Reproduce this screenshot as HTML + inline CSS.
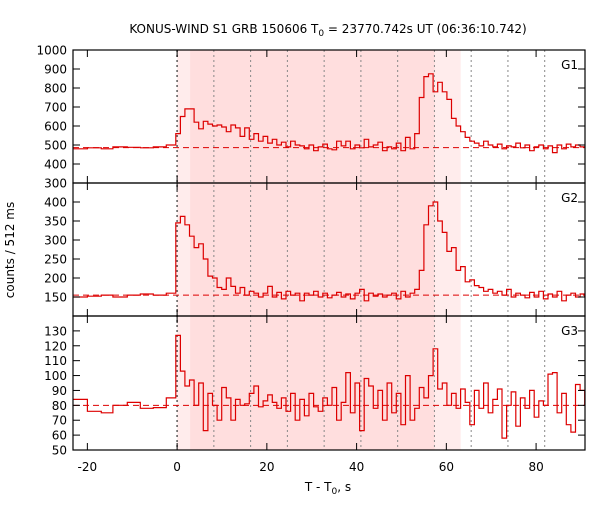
<!DOCTYPE html>
<html><head><meta charset="utf-8"><style>
body{margin:0;background:#fff}
svg text{font-family:"DejaVu Sans","Liberation Sans",sans-serif;fill:#000}
</style></head><body>
<svg id="c" width="600" height="500" xmlns="http://www.w3.org/2000/svg">
<defs><clipPath id="pc"><rect x="73" y="50" width="512" height="400"/></clipPath></defs>
<text x="328" y="33" font-size="12" text-anchor="middle">KONUS-WIND S1 GRB 150606 T<tspan font-size="9" dy="3">0</tspan><tspan dy="-3"> = 23770.742s UT (06:36:10.742)</tspan></text>
<text x="14" y="250" font-size="12" text-anchor="middle" transform="rotate(-90 14 250)">counts / 512 ms</text>
<text x="328" y="491" font-size="12" text-anchor="middle">T - T<tspan font-size="9" dy="3">0</tspan><tspan dy="-3">, s</tspan></text>
<g id="g"></g>
</svg>
<script>
const preEdges=[-23.2,-20,-16.9,-14.3,-11.1,-8.2,-5.3,-2.4,-0.3];
const postStart=-0.3, binW=1.024;
const g1Pre=[480,485,480,490,488,485,490,500];
const g1Post=[560,650,690,690,620,585,625,610,600,605,595,570,605,590,545,590,530,560,520,545,510,530,500,515,490,520,500,495,480,500,470,490,505,480,475,520,495,520,480,500,485,530,490,500,515,470,490,480,510,470,540,480,560,750,860,875,780,830,780,740,640,600,570,540,520,510,495,520,500,490,505,480,495,490,510,485,500,470,490,500,480,495,460,500,480,505,490,500,490];
const g2Pre=[150,152,155,150,155,158,155,160];
const g2Post=[345,362,340,310,280,290,250,205,200,175,170,200,178,160,175,155,165,160,150,160,178,150,162,145,165,155,160,140,160,155,165,150,160,148,155,162,150,158,145,160,170,140,160,152,158,150,155,160,145,165,150,160,170,220,340,390,400,350,320,270,280,220,230,190,195,180,175,165,170,160,165,155,170,150,160,155,148,162,150,165,145,158,150,165,140,155,160,150,158,150];
const g3Pre=[84,76,75,80,82,78,78.5,85];
const g3Post=[127,103,93,97,80,95,63,88,80,70,92,85,70,84,80,81,88,93,79,83,87,82,78,85,76,88,70,84,73,88,79,76,85,80,92,70,82,102,75,95,63,98,93,78,90,70,95,75,88,67,100,70,78,92,85,100,118,91,95,80,88,78,91,82,67,90,78,95,75,84,91,58,80,89,66,85,78,90,72,83,80,101,102,75,88,67,62,94,90,80];
const backgrounds=[486,155,80];
const panelNames=["G1","G2","G3"];
const yRanges=[[300,1000],[100,450],[50,140]];
const yTicks=[[300,400,500,600,700,800,900,1000],[150,200,250,300,350,400],[50,60,70,80,90,100,110,120,130]];
const xTicks=[-20,0,20,40,60,80];
const gridTimes=[0,8.192,16.384,24.576,32.768,40.96,49.152,57.344,65.536,73.728,81.92];
const shadeOuter=[0,63.2], shadeInner=[2.9,57.4];

const X0=73,X1=585,T0=-23.2,T1=90.9;
const panelTop=[50,183,316], panelBot=[183,316,450];
const xs=t=>X0+(t-T0)*(X1-X0)/(T1-T0);
const ysF=p=>v=>panelBot[p]-(v-yRanges[p][0])*(panelBot[p]-panelTop[p])/(yRanges[p][1]-yRanges[p][0]);
const NS="http://www.w3.org/2000/svg";
const G=document.getElementById('g');
function mk(tag,attrs,parent){const e=document.createElementNS(NS,tag);for(const k in attrs)e.setAttribute(k,attrs[k]);(parent||G).appendChild(e);return e;}

let r=mk('rect',{x:xs(shadeOuter[0]),y:50,width:xs(shadeOuter[1])-xs(shadeOuter[0]),height:400,fill:'#ffecec'});


r=mk('rect',{x:xs(shadeInner[0]),y:50,width:xs(shadeInner[1])-xs(shadeInner[0]),height:400,fill:'#ffdede'});


gridTimes.forEach((t,i)=>{
  const l=mk('line',{x1:xs(t),x2:xs(t),y1:50,y2:450,stroke:i==0?'#666':'#888','stroke-width':i==0?1.6:1,'stroke-dasharray':'2,3'});
  
  
});
const pres=[g1Pre,g2Pre,g3Pre], posts=[g1Post,g2Post,g3Post];
for(let p=0;p<3;p++){
  const ys=ysF(p);
  const b=mk('line',{x1:X0,x2:X1,y1:ys(backgrounds[p]),y2:ys(backgrounds[p]),stroke:'#d00','stroke-width':1,'stroke-dasharray':'6,4'});
  
  
  let d='';
  const pre=pres[p];
  for(let i=0;i<pre.length;i++){
    const xa=xs(preEdges[i]),xb=xs(preEdges[i+1]),y=ys(pre[i]);
    d+=(i==0?'M':'L')+xa.toFixed(1)+','+y.toFixed(1)+'L'+xb.toFixed(1)+','+y.toFixed(1);
  }
  posts[p].forEach((v,i)=>{
    const xa=xs(postStart+i*binW),xb=xs(postStart+(i+1)*binW),y=ys(v);
    d+='L'+xa.toFixed(1)+','+y.toFixed(1)+'L'+xb.toFixed(1)+','+y.toFixed(1);
  });
  const path=mk('path',{d:d,fill:'none',stroke:'#d00','stroke-width':1.2,'clip-path':'url(#pc)'});
  
  
  const fr=mk('rect',{x:X0,y:panelTop[p],width:X1-X0,height:panelBot[p]-panelTop[p],fill:'none',stroke:'#000','stroke-width':1.2});
  
  
  yTicks[p].forEach(v=>{
    const y=ys(v);
    mk('line',{x1:X0,x2:X0+7,y1:y,y2:y,stroke:'#000'});
    mk('line',{x1:X1-7,x2:X1,y1:y,y2:y,stroke:'#000'});
    const t=mk('text',{x:X0-6,y:y+4.5,'font-size':12,'text-anchor':'end'});
    t.textContent=v;
    
    
  });
  xTicks.forEach(v=>{
    const x=xs(v);
    mk('line',{x1:x,x2:x,y1:panelBot[p],y2:panelBot[p]-7,stroke:'#000'});
    mk('line',{x1:x,x2:x,y1:panelTop[p],y2:panelTop[p]+7,stroke:'#000'});
  });
  const lab=mk('text',{x:578,y:panelTop[p]+19,'font-size':12,'text-anchor':'end'});
  lab.textContent=panelNames[p];
  
  
}
xTicks.forEach(v=>{
  const t=mk('text',{x:xs(v),y:471,'font-size':12,'text-anchor':'middle'});
  t.textContent=v;
  
  
});
</script>
</body></html>
